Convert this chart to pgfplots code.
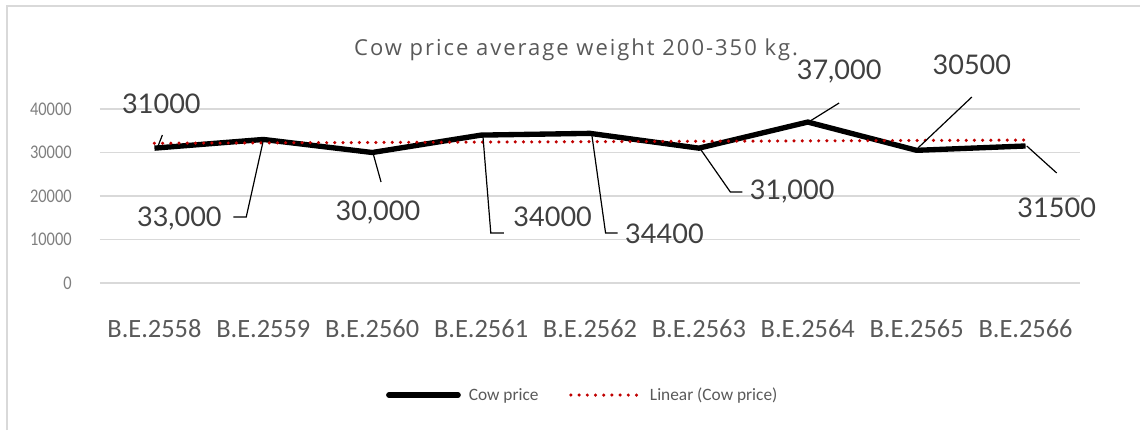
\documentclass[border=0pt]{standalone}
\usepackage{fontspec}
\usepackage{pgfplots}
\pgfplotsset{compat=1.18}
\setmainfont{Carlito}
\newfontfamily\tickfont[FakeStretch=0.85]{Carlito}
\newfontfamily\latofont{Lato}
\newfontfamily\titlefont[LetterSpace=9]{Open Sans}
\definecolor{gridc}{HTML}{D9D9D9}
\definecolor{tickc}{HTML}{595959}
\definecolor{ytickc}{HTML}{7F7F7F}
\definecolor{lblc}{HTML}{404040}
\definecolor{trendc}{HTML}{C00000}
\begin{document}
\begin{tikzpicture}
\begin{axis}[name=ax,
  scale only axis, width=735pt, height=130.5pt,
  xmin=-0.5, xmax=8.5, ymin=0, ymax=40000,
  xtick={0,1,2,3,4,5,6,7,8},
  xticklabels={B.E.2558,B.E.2559,B.E.2560,B.E.2561,B.E.2562,B.E.2563,B.E.2564,B.E.2565,B.E.2566},
  ytick={0,10000,20000,30000,40000},
  axis line style={draw=none}, major tick length=0pt,
  ymajorgrids, grid style={gridc, line width=1.1pt},
  scaled y ticks=false,
  /pgf/number format/1000 sep={},
  /pgf/number format/assume math mode=true,
  yticklabel style={font=\tickfont\fontsize{14.5}{14.5}\selectfont, text=ytickc, anchor=east, inner sep=0pt, xshift=-21pt},
  xticklabel style={font=\fontsize{19.8}{19.8}\selectfont, text=tickc, anchor=north, inner sep=0pt, yshift=-27.5pt},
  clip=false,
  legend style={at={(0.493,-0.644)}, anchor=center, draw=none, fill=none,
    font=\fontsize{13}{13}\selectfont, text=tickc, legend columns=2,
    /tikz/every odd column/.append style={column sep=4pt},
    /tikz/every even column/.append style={column sep=21pt}},
  legend image code/.code={\draw[#1, line cap=round] (0pt,0pt) -- (52pt,0pt);},
]
\addplot[black, line width=4pt, line join=round] coordinates {(0,31000)(1,33000)(2,30000)(3,34000)(4,34400)(5,31000)(6,37000)(7,30500)(8,31500)};
\addlegendentry{Cow price}
\addplot[trendc, line width=2.6pt, line cap=round, dash pattern=on 0pt off 6.15pt] coordinates {(0,32122)(8,32856)};
\addlegendentry{Linear (Cow price)}

\draw[black, line width=0.9pt] (axis cs:0.037,31730) -- (axis cs:0.073,34030);
\draw[black, line width=0.9pt] (axis cs:1,32800) -- (axis cs:0.843,15170) -- (axis cs:0.724,15170);
\draw[black, line width=0.9pt] (axis cs:2.007,29890) -- (axis cs:2.081,23220);
\draw[black, line width=0.9pt] (axis cs:3.016,34000) -- (axis cs:3.089,11500) -- (axis cs:3.208,11500);
\draw[black, line width=0.9pt] (axis cs:4.015,34400) -- (axis cs:4.143,11500) -- (axis cs:4.253,11500);
\draw[black, line width=0.9pt] (axis cs:5.014,30800) -- (axis cs:5.289,20920) -- (axis cs:5.399,20920);
\draw[black, line width=0.9pt] (axis cs:6.022,37240) -- (axis cs:6.288,41380);
\draw[black, line width=0.9pt] (axis cs:7.012,31040) -- (axis cs:7.507,42760);
\draw[black, line width=0.9pt] (axis cs:8.011,31500) -- (axis cs:8.286,25290);

\begin{scope}[every node/.style={font=\latofont\fontsize{20.3}{20.3}\selectfont, text=lblc, inner sep=0pt}]
\node at (axis cs:0.064,41150) {31000};
\node at (axis cs:0.229,14710) {33,000};
\node at (axis cs:2.053,16090) {30,000};
\node at (axis cs:3.657,15170) {34000};
\node at (axis cs:4.684,11270) {34400};
\node at (axis cs:5.857,20920) {31,000};
\node at (axis cs:6.288,48510) {37,000};
\node at (axis cs:7.507,50120) {30500};
\node at (axis cs:8.286,17240) {31500};
\end{scope}
\node[font=\titlefont\fontsize{16.5}{16.5}\selectfont, text=tickc, inner sep=0pt] at (axis cs:3.872,53570) {Cow price average weight 200-350 kg.};
\end{axis}
\draw[gridc, line width=1.2pt] ([shift={(-69.75pt,-110.25pt)}]ax.south west) -- ([shift={(-69.75pt,207.75pt)}]ax.south west) -- ([shift={(780pt,207.75pt)}]ax.south west);
\pgfresetboundingbox
\path[use as bounding box] ([shift={(-75pt,-110.25pt)}]ax.south west) rectangle ([shift={(780pt,212.25pt)}]ax.south west);
\end{tikzpicture}
\end{document}
